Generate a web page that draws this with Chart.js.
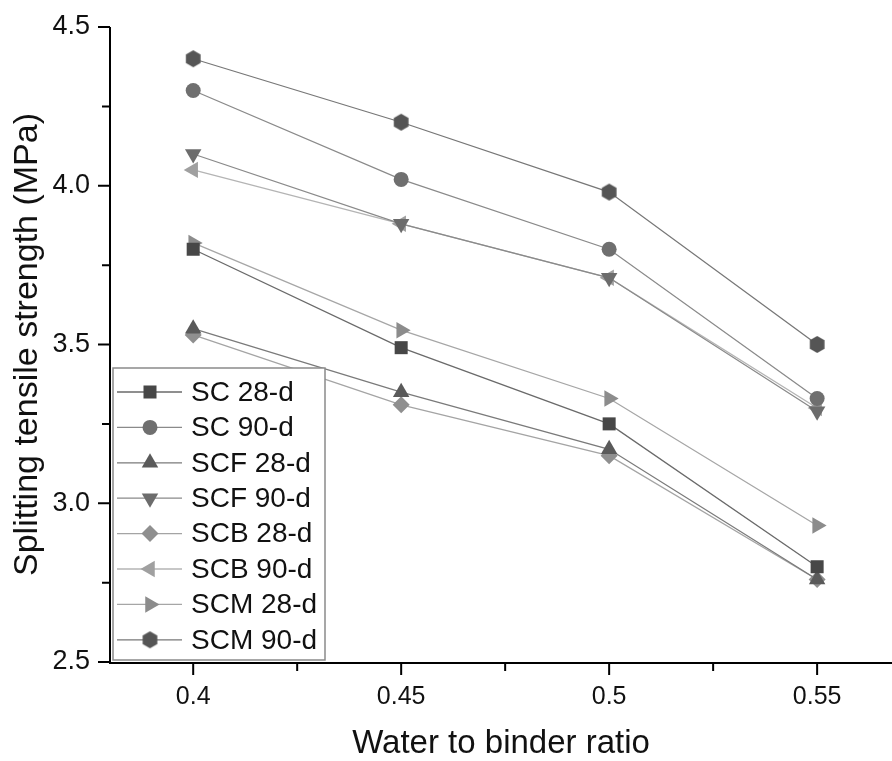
<!DOCTYPE html>
<html>
<head>
<meta charset="utf-8">
<title>Splitting tensile strength</title>
<script src="https://cdn.jsdelivr.net/npm/chart.js@4.4.1/dist/chart.umd.min.js"></script>
<style>
  html, body { margin: 0; padding: 0; background: #fff; overflow: hidden; }
  #wrap { width: 892px; height: 761px; position: relative; }
</style>
</head>
<body>
<div id="wrap"><canvas id="grafico"></canvas></div>
<script>
// datos
const ratios = [0.4, 0.45, 0.5, 0.55];
const sc28 = [3.80, 3.49, 3.25, 2.80];
const sc90 = [4.30, 4.02, 3.80, 3.33];
const scf28 = [3.55, 3.35, 3.17, 2.76];
const scf90 = [4.10, 3.88, 3.71, 3.29];
const scb28 = [3.53, 3.31, 3.15, 2.76];
const scb90 = [4.05, 3.88, 3.71, 3.30];
const scm28 = [3.82, 3.545, 3.33, 2.93];
const scm90 = [4.40, 4.20, 3.98, 3.50];
const etiquetas = ['SC 28-d', 'SC 90-d', 'SCF 28-d', 'SCF 90-d', 'SCB 28-d', 'SCB 90-d', 'SCM 28-d', 'SCM 90-d'];
const yTicks = [2.5, 3.0, 3.5, 4.0, 4.5];
const xTicks = [0.4, 0.45, 0.5, 0.55];

const FUENTE = "'Liberation Sans', Arial, sans-serif";

// hexagono como imagen (no existe en Chart.js)
function hexagono(color, r) {
    const c = document.createElement('canvas');
    const s = Math.ceil(r * 2 + 2);
    c.width = s; c.height = s;
    const g = c.getContext('2d');
    g.fillStyle = color;
    g.beginPath();
    for (let i = 0; i < 6; i++) {
        const a = -Math.PI / 2 + i * Math.PI / 3;
        const px = s / 2 + Math.cos(a) * r, py = s / 2 + Math.sin(a) * r;
        if (i === 0) g.moveTo(px, py); else g.lineTo(px, py);
    }
    g.closePath();
    g.fill();
    return c;
}

const series = [sc28, sc90, scf28, scf90, scb28, scb90, scm28, scm90];
const colores = ['#474747', '#6f6f6f', '#5a5a5a', '#6c6c6c', '#8f8f8f', '#a0a0a0', '#8c8c8c', '#555555'];
const lineas = ['#6a6a6a', '#8a8a8a', '#7a7a7a', '#8a8a8a', '#a4a4a4', '#b4b4b4', '#a6a6a6', '#777777'];
const estilos = ['rect', 'circle', 'triangle', 'triangle', 'rectRot', 'triangle', 'triangle', hexagono('#555555', 8.5)];
const rotaciones = [0, 0, 0, 180, 0, 270, 90, 0];
const radios = [9.2, 7.5, 9.5, 9.5, 8.5, 9.5, 9.5, 8];

const datasets = series.map((s, i) => ({
    label: etiquetas[i],
    data: s.map((v, j) => ({ x: ratios[j], y: v })),
    borderColor: lineas[i],
    backgroundColor: colores[i],
    borderWidth: 1.3,
    pointStyle: estilos[i],
    pointRotation: rotaciones[i],
    pointRadius: radios[i],
    pointBorderWidth: 0,
    pointBackgroundColor: colores[i],
    pointBorderColor: colores[i],
    tension: 0
}));

// marcas de los ejes (mayores y menores) hacia afuera
const marcas = {
    id: 'marcas',
    afterDraw(chart) {
        const ctx = chart.ctx;
        const xs = chart.scales.x, ys = chart.scales.y;
        const area = chart.chartArea;
        ctx.save();
        ctx.strokeStyle = '#000';
        ctx.lineWidth = 2;
        ctx.beginPath();
        ctx.moveTo(area.left, area.top);
        ctx.lineTo(area.left, area.bottom + 1);
        ctx.lineTo(area.right, area.bottom + 1);
        ctx.stroke();
        ctx.beginPath();
        for (let i = 0; i < yTicks.length; i++) {
            const y = ys.getPixelForValue(yTicks[i]);
            ctx.moveTo(area.left, y); ctx.lineTo(area.left - 12, y);
            if (i < yTicks.length - 1) {
                const ym = ys.getPixelForValue((yTicks[i] + yTicks[i + 1]) / 2);
                ctx.moveTo(area.left, ym); ctx.lineTo(area.left - 8, ym);
            }
        }
        const xMenores = [0.425, 0.475, 0.525];
        xTicks.forEach(v => {
            const x = xs.getPixelForValue(v);
            ctx.moveTo(x, area.bottom); ctx.lineTo(x, area.bottom + 13);
        });
        xMenores.forEach(v => {
            const x = xs.getPixelForValue(v);
            ctx.moveTo(x, area.bottom); ctx.lineTo(x, area.bottom + 9);
        });
        ctx.stroke();
        ctx.restore();
    }
};

// leyenda dibujada a mano dentro del area
const leyenda = {
    id: 'leyenda',
    afterDraw(chart) {
        const ctx = chart.ctx;
        ctx.save();
        ctx.fillStyle = '#fff';
        ctx.fillRect(113, 368, 212, 292);
        ctx.strokeStyle = '#8a8a8a';
        ctx.lineWidth = 1.5;
        ctx.strokeRect(113, 368, 212, 292);
        ctx.font = '28px ' + FUENTE;
        ctx.textBaseline = 'middle';
        chart.data.datasets.forEach((ds, i) => {
            const y = 392 + i * 35.4;
            ctx.strokeStyle = ds.borderColor;
            ctx.lineWidth = 1.3;
            ctx.beginPath();
            ctx.moveTo(117, y); ctx.lineTo(182, y);
            ctx.stroke();
            ctx.fillStyle = ds.pointBackgroundColor;
            Chart.helpers.drawPoint(ctx, {
                pointStyle: ds.pointStyle,
                rotation: ds.pointRotation,
                radius: ds.pointRadius,
                borderWidth: 0
            }, 150, y);
            ctx.fillStyle = '#111';
            ctx.fillText(ds.label, 191, y + 1);
        });
        ctx.restore();
    }
};

new Chart(document.getElementById('grafico'), {
    type: 'line',
    data: { datasets: datasets },
    options: {
        responsive: true,
        maintainAspectRatio: false,
        animation: false,
        devicePixelRatio: 1,
        layout: { autoPadding: false, padding: { top: 27, right: 0, left: 0, bottom: 0 } },
        plugins: {
            legend: { display: false },
            tooltip: { enabled: false }
        },
        scales: {
            x: {
                type: 'linear',
                min: 0.38,
                max: 0.568,
                afterFit(scale) {
                    scale.height = 99;
                    scale.paddingLeft = 0;
                    scale.paddingRight = 0;
                },
                afterBuildTicks(scale) { scale.ticks = xTicks.map(v => ({ value: v })); },
                grid: { display: false, drawTicks: false },
                border: { display: false },
                ticks: {
                    padding: 20,
                    color: '#111',
                    font: { family: FUENTE, size: 25 },
                    maxRotation: 0,
                    callback: v => String(v)
                },
                title: {
                    display: true,
                    text: 'Water to binder ratio',
                    color: '#111',
                    font: { family: FUENTE, size: 33, lineHeight: 1 },
                    padding: { top: 0, bottom: 1 }
                }
            },
            y: {
                min: 2.5,
                max: 4.5,
                afterFit(scale) {
                    scale.width = 110;
                    scale.paddingTop = 0;
                    scale.paddingBottom = 0;
                },
                afterBuildTicks(scale) { scale.ticks = yTicks.map(v => ({ value: v })); },
                grid: { display: false, drawTicks: false },
                border: { display: false },
                ticks: {
                    padding: 20,
                    color: '#111',
                    font: { family: FUENTE, size: 27 },
                    callback: v => v.toFixed(1)
                },
                title: {
                    display: true,
                    text: 'Splitting tensile strength (MPa)',
                    color: '#111',
                    font: { family: FUENTE, size: 34, lineHeight: 1 },
                    padding: { top: 11, bottom: 0 }
                }
            }
        }
    },
    plugins: [marcas, leyenda]
});
</script>
</body>
</html>
